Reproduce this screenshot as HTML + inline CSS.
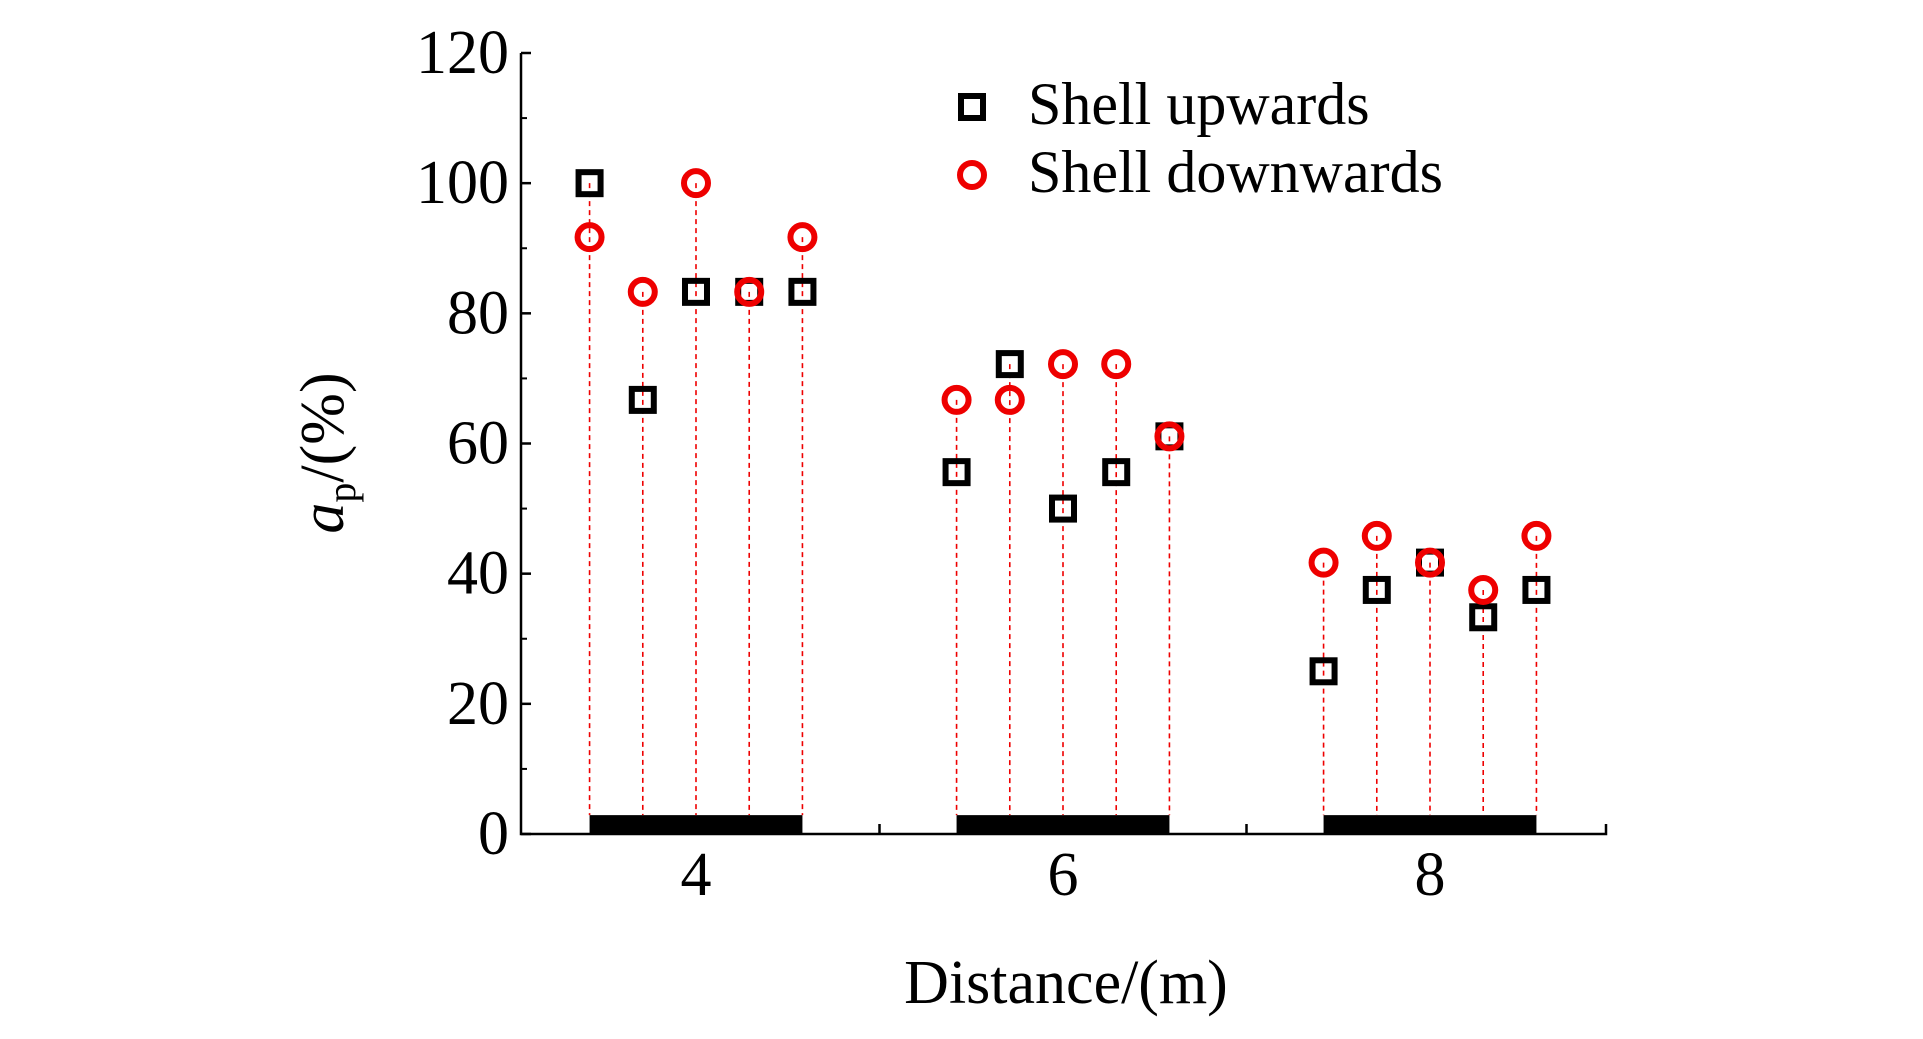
<!DOCTYPE html>
<html><head><meta charset="utf-8"><style>
html,body{margin:0;padding:0;background:#fff;}
svg{display:block;font-family:"Liberation Serif",serif;}
</style></head><body>
<svg id="chart" width="1923" height="1039" viewBox="0 0 1923 1039">
<g id="plot"></g>
</svg>
<script>
const categories = [4, 6, 8];
const offsets = [-0.58, -0.29, 0, 0.29, 0.58];
const upValues = [[100, 66.7, 83.3, 83.3, 83.3], [55.6, 72.2, 50, 55.6, 61.1], [25, 37.5, 41.7, 33.3, 37.5]];
const downValues = [[91.7, 83.3, 100, 83.3, 91.7], [66.7, 66.7, 72.2, 72.2, 61.1], [41.7, 45.8, 41.7, 37.5, 45.8]];
const yTicks = [0, 20, 40, 60, 80, 100, 120];
const xMinorTicks = [5, 7];

const NS = "http://www.w3.org/2000/svg";
const L = 521, R = 1606, T = 53, B = 834;
const xs = v => 696 + (v - 4) * 183.5;
const ys = v => B - v / 120 * (B - T);
const g = document.getElementById('plot');
function el(tag, attrs, parent) {
  const e = document.createElementNS(NS, tag);
  for (const k in attrs) e.setAttribute(k, attrs[k]);
  (parent || g).appendChild(e);
  return e;
}
categories.forEach((c, ci) => {
  const b = el('rect', {x: xs(c + offsets[0]), y: ys(2.9), width: xs(c + offsets[4]) - xs(c + offsets[0]), height: ys(0) - ys(2.9), fill: '#000'});
  
  
  offsets.forEach((o, i) => {
    const top = Math.max(upValues[ci][i], downValues[ci][i]);
    const ln = el('line', {x1: xs(c + o), x2: xs(c + o), y1: ys(top), y2: ys(2.9), stroke: '#e00', 'stroke-width': 1.6, 'stroke-dasharray': '5,4'});
    
    
  });
});
const ax = el('path', {d: `M${L},${T} V${B} H${R} V${B-10}`, stroke: '#000', 'stroke-width': 2.5, fill: 'none'});


yTicks.forEach((t, i) => {
  el('line', {x1: L, x2: L + 10, y1: ys(t), y2: ys(t), stroke: '#000', 'stroke-width': 2.5});
  if (i < yTicks.length - 1) el('line', {x1: L, x2: L + 6, y1: ys(t + 10), y2: ys(t + 10), stroke: '#000', 'stroke-width': 2});
  const tx = el('text', {x: 509, y: ys(t) + 20, 'text-anchor': 'end', 'font-size': 62});
  tx.textContent = t;
  
  
});
xMinorTicks.forEach(t => el('line', {x1: xs(t), x2: xs(t), y1: B, y2: B - 10, stroke: '#000', 'stroke-width': 2.5}));
categories.forEach(c => {
  const tx = el('text', {x: xs(c), y: 895, 'text-anchor': 'middle', 'font-size': 62});
  tx.textContent = c;
  
  
});
categories.forEach((c, ci) => {
  offsets.forEach((o, i) => {
    const sq = el('rect', {x: xs(c + o) - 11, y: ys(upValues[ci][i]) - 11, width: 22, height: 22, fill: 'none', stroke: '#000', 'stroke-width': 6});
    
    
    const ci2 = el('circle', {cx: xs(c + o), cy: ys(downValues[ci][i]), r: 12, fill: 'none', stroke: '#e00', 'stroke-width': 6});
    
    
  });
});
const lg = el('g', {});


el('rect', {x: 961, y: 96, width: 22, height: 22, fill: 'none', stroke: '#000', 'stroke-width': 6}, lg);
el('circle', {cx: 972, cy: 175, r: 12, fill: 'none', stroke: '#e00', 'stroke-width': 6}, lg);
const l1 = el('text', {x: 1028, y: 124, 'font-size': 60}, lg); l1.textContent = 'Shell upwards';


const l2 = el('text', {x: 1028, y: 192, 'font-size': 60}, lg); l2.textContent = 'Shell downwards';


const xt = el('text', {x: 1066, y: 1003, 'text-anchor': 'middle', 'font-size': 62});
xt.textContent = 'Distance/(m)';


const yt = el('text', {x: 0, y: 0, 'text-anchor': 'middle', 'font-size': 62, transform: 'translate(343,453) rotate(-90)'});
yt.innerHTML = '<tspan font-style="italic">a</tspan><tspan font-size="40" dy="12">p</tspan><tspan dy="-12">/(%)</tspan>';


</script>
</body></html>
